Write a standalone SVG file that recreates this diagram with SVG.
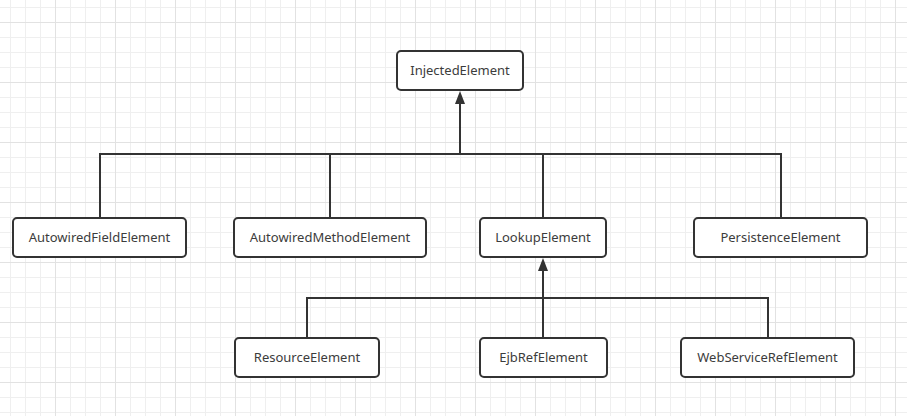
<svg xmlns="http://www.w3.org/2000/svg" width="907" height="416" viewBox="0 0 907 416">
<style>
.node rect{fill:#ffffff;stroke:#333333;stroke-width:2}
.node text{font-family:"Noto Sans","Open Sans",sans-serif;font-size:13px;fill:#3c3c3c;text-anchor:middle}
.edge{fill:none;stroke:#333333;stroke-width:2}
</style>
<defs>
<pattern id="grid" patternUnits="userSpaceOnUse" x="10" y="7" width="60" height="60">
<path d="M0.5 0V60M15.5 0V60M30.5 0V60M0 0.5H60M0 30.5H60M0 45.5H60" stroke="#efefef" stroke-width="1" fill="none"/>
<path d="M45.5 0V60M0 15.5H60" stroke="#e2e2e2" stroke-width="1" fill="none"/>
</pattern>
<marker id="arrow" viewBox="0 0 13 10" refX="0" refY="5" markerWidth="13" markerHeight="10" markerUnits="userSpaceOnUse" orient="auto">
<path d="M0 0L13 5L0 10Z" fill="#333333"/>
</marker>
</defs>
<rect width="907" height="416" fill="#ffffff"/>
<rect width="907" height="416" fill="url(#grid)"/>
<g id="connectors">
<path class="edge" d="M100 218V154H781V218"/>
<path class="edge" d="M330 154V218"/>
<path class="edge" d="M543 154V218"/>
<path class="edge" d="M460 154V104" marker-end="url(#arrow)"/>
<path class="edge" d="M307 338V298H768V338"/>
<path class="edge" d="M543 338V271" marker-end="url(#arrow)"/>
</g>
<g id="InjectedElement" class="node"><rect x="397" y="51" width="126" height="39" rx="4"/><text x="460" y="75">InjectedElement</text></g>
<g id="AutowiredFieldElement" class="node"><rect x="13" y="218" width="173" height="39" rx="4"/><text x="99.5" y="242">AutowiredFieldElement</text></g>
<g id="AutowiredMethodElement" class="node"><rect x="234" y="218" width="192" height="39" rx="4"/><text x="330" y="242">AutowiredMethodElement</text></g>
<g id="LookupElement" class="node"><rect x="480" y="218" width="126" height="39" rx="4"/><text x="543" y="242">LookupElement</text></g>
<g id="PersistenceElement" class="node"><rect x="694" y="218" width="173" height="39" rx="4"/><text x="780.5" y="242">PersistenceElement</text></g>
<g id="ResourceElement" class="node"><rect x="235" y="338" width="144" height="39" rx="4"/><text x="307" y="362">ResourceElement</text></g>
<g id="EjbRefElement" class="node"><rect x="480" y="338" width="127" height="39" rx="4"/><text x="543.5" y="362">EjbRefElement</text></g>
<g id="WebServiceRefElement" class="node"><rect x="681" y="338" width="173" height="39" rx="4"/><text x="767.5" y="362">WebServiceRefElement</text></g>
</svg>
